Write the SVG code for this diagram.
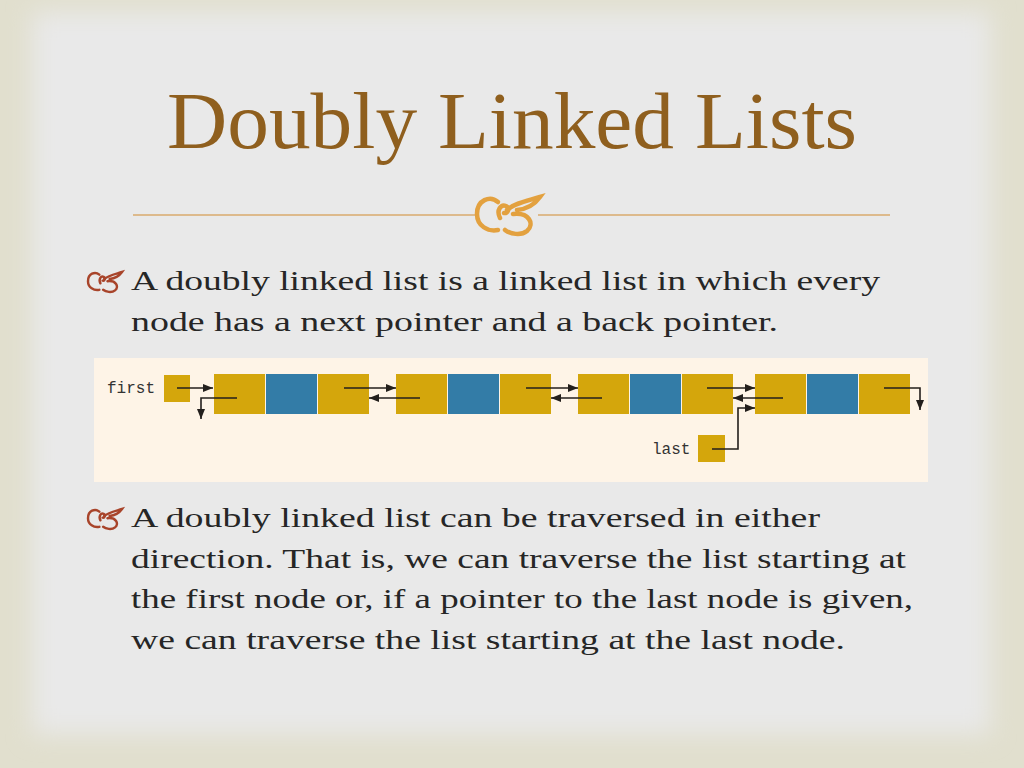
<svg xmlns="http://www.w3.org/2000/svg" width="1024" height="768" viewBox="0 0 1024 768">
<defs>
<filter id="blur" x="-10%" y="-10%" width="120%" height="120%"><feGaussianBlur stdDeviation="12"/></filter>
<marker id="ah" viewBox="0 0 10 8" refX="10" refY="4" markerWidth="10" markerHeight="8" markerUnits="userSpaceOnUse" orient="auto">
<path d="M0,0 L10,4 L0,8 Z" fill="#231f1c"/>
</marker>
<g id="orn" fill="none" stroke-linecap="round">
<path d="M21,5 C13,-2 0,3 0,17 C0,29 11,35 21,33"/>
<path d="M23,21 C19,13 24,7 29,9 C33,11 31,17 27,16"/>
<path d="M30,13 C38,6 50,4 63,0 C58,7 50,12 40,13"/>
<path d="M36,17 C52,15 58,27 50,34 C44,39 33,37 28,33"/>
</g>
<style>
.title{font-family:"Liberation Serif","Times New Roman",serif;font-size:80px;fill:#8f5f1e}
.body{font-family:"Liberation Serif","Times New Roman",serif;font-size:28px;fill:#262626}
.mono{font-family:"Liberation Mono","Courier New",monospace;font-size:16px;fill:#333}
.gold{fill:#d4a60c}
.blue{fill:#337ca7}
.ln{fill:none;stroke:#231f1c;stroke-width:1.6;marker-end:url(#ah)}
</style>
</defs>
<rect x="0" y="0" width="1024" height="768" fill="#e1dfce"/>
<rect x="32" y="12" width="958" height="722" fill="#e9e9e9" filter="url(#blur)"/>

<g id="title">
<text class="title" x="167" y="148" textLength="690" lengthAdjust="spacingAndGlyphs">Doubly Linked Lists</text>
<line x1="133" y1="215" x2="478" y2="215" stroke="#d9aa6c" stroke-width="1.5"/>
<line x1="538" y1="215" x2="890" y2="215" stroke="#d9aa6c" stroke-width="1.5"/>
<use href="#orn" transform="translate(477,197)" stroke="#e3a13f" stroke-width="4.5"/>
</g>

<g id="para1">
<use href="#orn" transform="translate(88,272) scale(0.54)" stroke="#a8442a" stroke-width="4.5"/>
<text class="body" x="131" y="290" textLength="749" lengthAdjust="spacingAndGlyphs">A doubly linked list is a linked list in which every</text>
<text class="body" x="131" y="331" textLength="647" lengthAdjust="spacingAndGlyphs">node has a next pointer and a back pointer.</text>
</g>

<g id="panel">
<rect x="94" y="358" width="834" height="124" fill="#fef4e7"/>
</g>

<g id="first">
<text class="mono" x="107" y="393">first</text>
<rect class="gold" x="164" y="375" width="26" height="27"/>
</g>
<g id="node1">
<rect class="gold" x="214" y="374" width="51" height="40"/>
<rect class="blue" x="266" y="374" width="51" height="40"/>
<rect class="gold" x="318" y="374" width="51" height="40"/>
</g>
<g id="node2">
<rect class="gold" x="396" y="374" width="51" height="40"/>
<rect class="blue" x="448" y="374" width="51" height="40"/>
<rect class="gold" x="500" y="374" width="51" height="40"/>
</g>
<g id="node3">
<rect class="gold" x="578" y="374" width="51" height="40"/>
<rect class="blue" x="630" y="374" width="51" height="40"/>
<rect class="gold" x="682" y="374" width="51" height="40"/>
</g>
<g id="node4">
<rect class="gold" x="755" y="374" width="51" height="40"/>
<rect class="blue" x="807" y="374" width="51" height="40"/>
<rect class="gold" x="859" y="374" width="51" height="40"/>
</g>
<g id="last">
<text class="mono" x="652" y="454">last</text>
<rect class="gold" x="698" y="435" width="27" height="27"/>
</g>

<g id="connectors">
<path class="ln" d="M177,388 H213"/>
<path class="ln" d="M237,398 H201 V419"/>
<path class="ln" d="M344,388 H396"/>
<path class="ln" d="M420,398 H369"/>
<path class="ln" d="M526,388 H578"/>
<path class="ln" d="M602,398 H551"/>
<path class="ln" d="M707,388 H755"/>
<path class="ln" d="M783,398 H733"/>
<path class="ln" d="M712,449 H738 V408 H755"/>
<path class="ln" d="M884,388 H920 V410"/>
</g>

<g id="para2">
<use href="#orn" transform="translate(88,509) scale(0.54)" stroke="#a8442a" stroke-width="4.5"/>
<text class="body" x="131" y="527" textLength="689" lengthAdjust="spacingAndGlyphs">A doubly linked list can be traversed in either</text>
<text class="body" x="131" y="568" textLength="775" lengthAdjust="spacingAndGlyphs">direction. That is, we can traverse the list starting at</text>
<text class="body" x="131" y="608" textLength="782" lengthAdjust="spacingAndGlyphs">the first node or, if a pointer to the last node is given,</text>
<text class="body" x="131" y="649" textLength="714" lengthAdjust="spacingAndGlyphs">we can traverse the list starting at the last node.</text>
</g>
</svg>
